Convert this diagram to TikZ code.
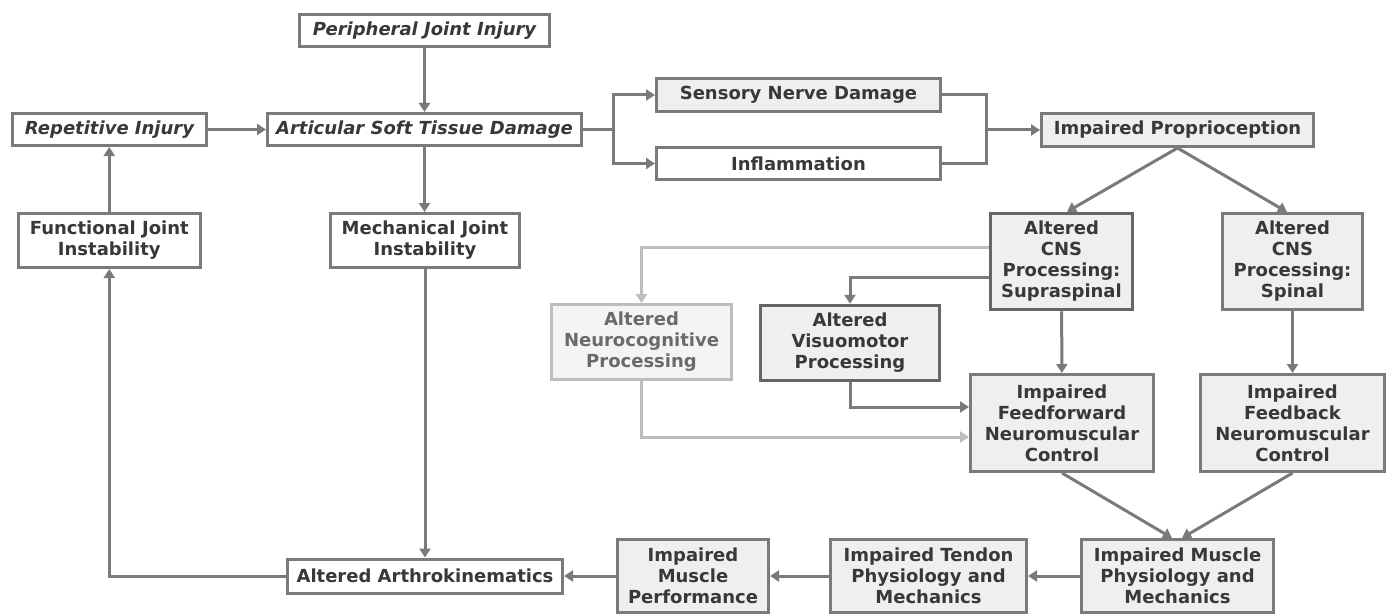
\documentclass[tikz,border=0pt]{standalone}
\usepackage{fontspec}
\setmainfont{DejaVu Sans}
\usetikzlibrary{arrows.meta}
\definecolor{linegray}{HTML}{7A7A7A}
\definecolor{darkline}{HTML}{666666}
\definecolor{boxfill}{HTML}{EFEFEF}
\definecolor{txtgray}{HTML}{383838}
\definecolor{palegray}{HTML}{BDBDBD}
\definecolor{paletxt}{HTML}{6A6A6A}
\tikzset{
  box/.style={draw=linegray, line width=3pt, fill=white, text=txtgray,
    font=\bfseries\fontsize{18}{21}\selectfont, align=center, inner sep=0pt},
  shaded/.style={box, fill=boxfill},
  pale/.style={box, draw=palegray, fill=boxfill!70!white, text=paletxt},
  strong/.style={shaded, draw=darkline, line width=3.5pt},
  link/.style={draw=linegray, line width=3pt},
  conn/.style={link, -{Triangle[length=9pt,width=11pt]}},
}
\begin{document}
\begin{tikzpicture}[x=1pt, y=-1pt]
    \useasboundingbox (0,0) rectangle (1391,615);
    \node[box, minimum width=250, minimum height=32] (pji) at (424.5,30.5) {\itshape Peripheral Joint Injury};
    \node[box, minimum width=194, minimum height=32] (ri) at (109.5,129.5) {\itshape Repetitive Injury};
    \node[box, minimum width=314, minimum height=32] (ast) at (424.5,129.5) {\itshape Articular Soft Tissue Damage};
    \node[shaded, minimum width=284, minimum height=33] (snd) at (798.5,95) {Sensory Nerve Damage};
    \node[box, minimum width=284, minimum height=32] (inf) at (798.5,163.5) {Inflammation};
    \node[shaded, minimum width=272, minimum height=33] (ip) at (1177.5,130) {Impaired Proprioception};
    \node[box, minimum width=182, minimum height=54] (fji) at (109.3,240.5) {Functional Joint\\Instability};
    \node[box, minimum width=189, minimum height=54] (mji) at (425,240.5) {Mechanical Joint\\Instability};
    \node[strong, minimum width=142, minimum height=96] (sup) at (1061.5,261.5) {Altered\\CNS\\Processing:\\Supraspinal};
    \node[shaded, minimum width=140, minimum height=96] (spi) at (1292.5,261.5) {Altered\\CNS\\Processing:\\Spinal};
    \node[pale, minimum width=180, minimum height=75] (neu) at (641.5,342) {Altered\\Neurocognitive\\Processing};
    \node[strong, minimum width=179, minimum height=75] (vis) at (850,343) {Altered\\Visuomotor\\Processing};
    \node[shaded, minimum width=183, minimum height=97] (ff) at (1062,423) {Impaired\\Feedforward\\Neuromuscular\\Control};
    \node[shaded, minimum width=184, minimum height=97] (fb) at (1292.5,423) {Impaired\\Feedback\\Neuromuscular\\Control};
    \node[shaded, minimum width=192, minimum height=73] (mpm) at (1177.5,576) {Impaired Muscle\\Physiology and\\Mechanics};
    \node[shaded, minimum width=196, minimum height=73] (tpm) at (928.5,576) {Impaired Tendon\\Physiology and\\Mechanics};
    \node[shaded, minimum width=151, minimum height=73] (mp) at (693,576) {Impaired\\Muscle\\Performance};
    \node[box, minimum width=275, minimum height=34] (aa) at (425,576) {Altered Arthrokinematics};
    \coordinate (fork) at (613,129.5);
    \coordinate (merge) at (986,130);
    \draw[conn] (pji) -- (ast);
    \draw[conn] (ri) -- (ast);
    \draw[conn] (ast.south) -- (ast.south |- mji.north);
    \draw[link] (ast.east) -- (fork);
    \draw[conn] (fork) |- (snd.west);
    \draw[conn] (fork) |- (inf.west);
    \draw[link] (snd.east) -| (merge);
    \draw[link] (inf.east) -| (merge);
    \draw[conn] (merge) -- (ip.west);
    \draw[conn] (ip.south) -- ([xshift=5.5pt]sup.north);
    \draw[conn] (ip.south) -- ([xshift=-5.5pt]spi.north);
    \draw[conn] (sup) -- (ff);
    \draw[conn] (spi) -- (fb);
    \draw[conn, palegray] ([yshift=14.5pt]sup.west) -| (neu.north);
    \draw[conn] ([yshift=-15.5pt]sup.west) -| (vis.north);
    \draw[conn] (vis.south) |- ([yshift=16pt]ff.west);
    \draw[conn, palegray] (neu.south) |- ([yshift=-14pt]ff.west);
    \draw[conn] (ff.south) -- ([xshift=-5.5pt]mpm.north);
    \draw[conn] (fb.south) -- ([xshift=4.5pt]mpm.north);
    \draw[conn] (mpm) -- (tpm);
    \draw[conn] (tpm) -- (mp);
    \draw[conn] (mp) -- (aa);
    \draw[conn] (mji) -- (aa);
    \draw[conn] (aa.west) -| (fji.south);
    \draw[conn] (fji.north) -- (fji.north |- ri.south);
\end{tikzpicture}
\end{document}
